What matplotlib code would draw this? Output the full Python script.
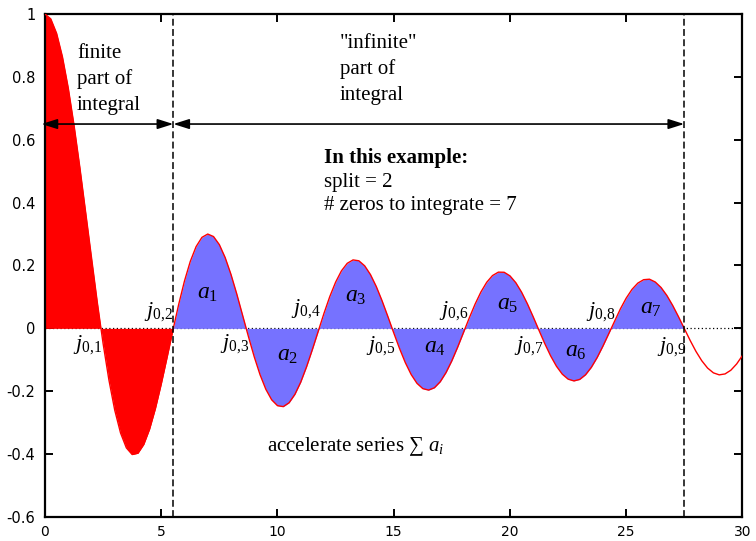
import numpy as np
import matplotlib
matplotlib.use("Agg")
import matplotlib.pyplot as plt
from matplotlib.patches import FancyArrowPatch

# ---------------- data ----------------
x_start, x_step = 0.0, 0.25
j0_values = [
    1.00000, 0.98444, 0.93847, 0.86424, 0.76520, 0.64591, 0.51183, 0.36903,
    0.22389, 0.08275, -0.04838, -0.16414, -0.26005, -0.33275, -0.38013, -0.40141,
    -0.39715, -0.36924, -0.32054, -0.25514, -0.17760, -0.09309, -0.00684, 0.07597,
    0.15065, 0.21309, 0.26009, 0.28946, 0.30008, 0.29200, 0.26634, 0.22523,
    0.17165, 0.10921, 0.04194, -0.02595, -0.09033, -0.14741, -0.19393, -0.22733,
    -0.24594, -0.24897, -0.23665, -0.20995, -0.17119, -0.12246, -0.06765, -0.00944,
    0.04769, 0.10113, 0.14688, 0.18289, 0.20693, 0.21777, 0.21499, 0.19902,
    0.17107, 0.13308, 0.08755, 0.03739, -0.01422, -0.06411, -0.10923, -0.14689,
    -0.17490, -0.19168, -0.19638, -0.18889, -0.16985, -0.14061, -0.10311, -0.05978,
    -0.01336, 0.03325, 0.07717, 0.11573, 0.14662, 0.16807, 0.17885, 0.17845,
    0.16702, 0.14542, 0.11510, 0.07803, 0.03658, -0.00664, -0.04894, -0.08773,
    -0.12065, -0.14574, -0.16154, -0.16718, -0.16241, -0.14766, -0.12393, -0.09279,
    -0.05623, -0.01658, 0.02370, 0.06210, 0.09627, 0.12414, 0.14406, 0.15487,
    0.15641, 0.14746, 0.12988, 0.10442, 0.07274, 0.03686, -0.00099, -0.03843,
    -0.07331, -0.10305, -0.12629, -0.14152, -0.14785, -0.14497, -0.13315, -0.11318,
    -0.08637,
]
bessel_zeros = [2.4048, 5.5201, 8.6537, 11.7915, 14.9309, 18.0711, 21.2116, 24.3525, 27.4935]
split = 2
n_zeros_integrate = 7
arrow_level = 0.65

zero_labels = [r"$j_{0{,}%d}$" % k for k in range(1, 10)]
term_labels = [r"$a_{%d}$" % k for k in range(1, 8)]

# label placement (layout)
zero_label_pos = [(1.83, -0.05), (4.87, 0.054), (8.18, -0.048), (11.23, 0.064),
                  (14.42, -0.054), (17.56, 0.057), (20.79, -0.054), (23.89, 0.054),
                  (26.94, -0.057)]
term_label_pos = [(7.0, 0.115), (10.45, -0.08), (13.38, 0.105), (16.79, -0.057),
                  (19.88, 0.08), (22.81, -0.07), (26.04, 0.067)]

# ---------------- style ----------------
plt.rcParams["axes.unicode_minus"] = False
plt.rcParams["mathtext.fontset"] = "custom"
plt.rcParams["mathtext.rm"] = "Liberation Serif"
plt.rcParams["mathtext.it"] = "Liberation Serif:italic"
plt.rcParams["mathtext.bf"] = "Liberation Serif:bold"
serif = ["Liberation Serif", "DejaVu Serif"]

fig = plt.figure(figsize=(7.56, 5.41), dpi=100)
ax = fig.add_axes([0.0595, 0.0444, 0.9226, 0.9297])

x_samples = x_start + x_step * np.arange(len(j0_values))
zeros = np.array(bessel_zeros)
xs = np.concatenate([x_samples, zeros])
ys = np.concatenate([np.array(j0_values), np.zeros_like(zeros)])
order = np.argsort(xs, kind="stable")
xs, ys = xs[order], ys[order]

z_split = zeros[split - 1]
z_end = zeros[split - 1 + n_zeros_integrate]
eps = 1e-9

ax.plot([0, 30], [0, 0], color="black", lw=0.9, ls=(0, (1, 2)), zorder=1)
ax.fill_between(xs, ys, 0, where=xs <= z_split + eps, color="#ff0000", lw=0, zorder=2)
ax.fill_between(xs, ys, 0, where=(xs >= z_split - eps) & (xs <= z_end + eps),
                color="#7672ff", lw=0, zorder=2)
ax.plot(xs, ys, color="#ff0000", lw=1.0, zorder=3)

for zx in (z_split, z_end):
    ax.axvline(zx, color="black", lw=1.1, ls=(0, (4.5, 2.2)), zorder=4)

for (x0, x1) in ((-0.15, z_split), (z_split, z_end)):
    arr = FancyArrowPatch((x0, arrow_level), (x1, arrow_level),
                          arrowstyle="<|-|>,head_length=0.95,head_width=0.3",
                          mutation_scale=10, color="black", lw=1.2,
                          shrinkA=0, shrinkB=0, zorder=5, clip_on=False)
    ax.add_patch(arr)

for lab, (px, py) in zip(zero_labels, zero_label_pos):
    ax.text(px, py, lab, fontsize=16, ha="center", va="center", zorder=6)
for lab, (px, py) in zip(term_labels, term_label_pos):
    ax.text(px, py, lab, fontsize=17, ha="center", va="center", zorder=6)

for txt, yy in zip(["finite", "part of", "integral"], [0.860, 0.777, 0.694]):
    ax.text(1.376, yy, txt, fontsize=15, family=serif, ha="left", va="baseline")
for txt, yy in zip(['"infinite"', "part of", "integral"], [0.892, 0.809, 0.726]):
    ax.text(12.69, yy, txt, fontsize=15, family=serif, ha="left", va="baseline")

ax.text(12.0, 0.527, "In this example:", fontsize=15, family=serif,
        fontweight="bold", ha="left", va="baseline")
ax.text(12.0, 0.451, "split = %d" % split, fontsize=15, family=serif,
        ha="left", va="baseline")
ax.text(12.0, 0.377, "# zeros to integrate = %d" % n_zeros_integrate, fontsize=15,
        family=serif, ha="left", va="baseline")
ax.text(9.55, -0.392, "accelerate series \u2211 $a_i$", fontsize=15, family=serif,
        ha="left", va="baseline")

ax.set_xlim(0, 30)
ax.set_ylim(-0.6, 1.0)
ax.set_xticks(np.arange(0, 31, 5))
yt = np.round(np.arange(-0.6, 1.01, 0.2), 1)
ax.set_yticks(yt)
ax.set_yticklabels(["%g" % v for v in yt])
ax.tick_params(direction="in", length=6, width=1.4, top=True, right=True,
               labelsize=10.5)
ax.tick_params(axis="y", pad=7)
ax.tick_params(axis="x", pad=6, labelsize=10)
for s in ax.spines.values():
    s.set_linewidth(1.6)

fig.savefig("out.png", dpi=100)
